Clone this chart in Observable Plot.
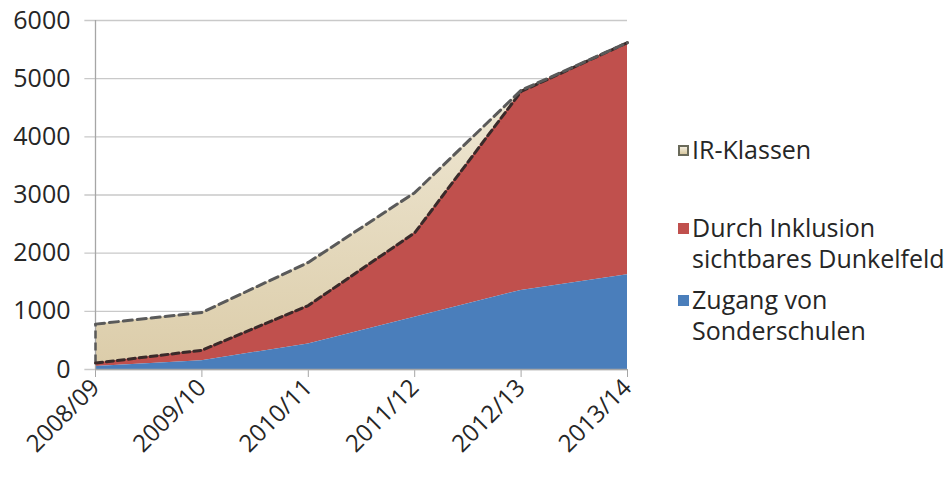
<!DOCTYPE html>
<html><head><meta charset="utf-8">
<script src="https://cdn.jsdelivr.net/npm/d3@7"></script>
<script src="https://cdn.jsdelivr.net/npm/@observablehq/plot@0.6"></script>
<style>
html,body{margin:0;padding:0;background:#fff;}
#wrap{display:flex;align-items:flex-start;width:949px;height:479px;font-family:"Open Sans",sans-serif;color:#262626;}
#legend{margin-top:134px;margin-left:18px;font-size:25px;line-height:31px;white-space:nowrap;}
.item{display:flex;align-items:flex-start;}
.sw{width:11px;height:11px;margin-top:11px;margin-right:3px;flex:none;}
</style></head>
<body><div id="wrap"><div id="chart"></div><div id="legend"></div></div>
<script>
const years = ["2008/09","2009/10","2010/11","2011/12","2012/13","2013/14"];
const zugang = [50,150,440,900,1360,1630];
const dunkelfeld = [60,180,660,1450,3420,3990];
const irKlassen = [670,650,740,690,20,0];
const yTicks = [0,1000,2000,3000,4000,5000,6000];
const seriesNames = ["IR-Klassen","Durch Inklusion sichtbares Dunkelfeld","Zugang von Sonderschulen"];
const colors = {blue:"#4a7ebb", red:"#c0504d"};

const rows = years.map((y,i)=>{
  const b = zugang[i], r = b + dunkelfeld[i], t = r + irKlassen[i];
  return {i, year:y, b0:0, b1:b, r1:r, t1:t};
});

const plot = Plot.plot({
  width: 660, height: 479,
  marginLeft: 95, marginRight: 33, marginTop: 20, marginBottom: 110,
  style: {fontFamily: "Open Sans, sans-serif", fontSize: "24px", color: "#262626", background: "#fff"},
  x: {type: "linear", domain: [0, years.length-1], ticks: d3.range(years.length), tickFormat: i => years[i], tickRotate: -45, tickSize: 8, label: null, tickPadding: 6},
  y: {domain: [0, 6000], ticks: yTicks, tickFormat: d => String(d), tickSize: 0, tickPadding: 25, label: null},
  marks: [
    Plot.ruleY(yTicks, {x1: -0.1, x2: years.length-1, stroke: "#c9c9c9", strokeWidth: 1.3, clip: false}),
    Plot.areaY(rows, {x: "i", y1: "r1", y2: "t1", fill: "url(#irgrad)"}),
    Plot.areaY(rows, {x: "i", y1: "b1", y2: "r1", fill: colors.red}),
    Plot.areaY(rows, {x: "i", y1: "b0", y2: "b1", fill: colors.blue}),
    Plot.ruleX([0], {stroke: "#a6a6a6", strokeWidth: 1.3}),
    Plot.ruleY([0], {stroke: "#a6a6a6", strokeWidth: 1.3}),
    Plot.ruleX(rows.slice(0,1), {x: "i", y1: "r1", y2: "t1", stroke: "#5a5a5a", strokeWidth: 2.5, strokeDasharray: "8,4"}),
    Plot.lineY(rows, {x: "i", y: "r1", stroke: "#3a2a2a", strokeWidth: 3, strokeDasharray: "7,4"}),
    Plot.lineY(rows, {x: "i", y: "t1", stroke: "#5a5a5a", strokeWidth: 3, strokeDasharray: "9,5"})
  ]
});

const svg = d3.select(plot);
svg.select("[aria-label='y-axis tick label']").style("font-size", "25px");
const defs = svg.insert("defs", ":first-child");
const g = defs.append("linearGradient").attr("id","irgrad").attr("x1",0).attr("y1",0).attr("x2",0).attr("y2",1);
g.append("stop").attr("offset","0%").attr("stop-color","#f2ecdb");
g.append("stop").attr("offset","100%").attr("stop-color","#dccdaa");
svg.selectAll("[aria-label='x-axis tick']").attr("stroke","#a6a6a6");
document.getElementById("chart").appendChild(plot);

const legend = document.getElementById("legend");
const items = [
  {style: "background:linear-gradient(#f3eddd,#d8c8a0);border:2px dashed #6a6a5a;box-sizing:border-box;", gap: 47},
  {style: "background:" + colors.red + ";", gap: 10},
  {style: "background:" + colors.blue + ";", gap: 0}
];
const wraps = [["IR-Klassen"],["Durch Inklusion","sichtbares Dunkelfeld"],["Zugang von","Sonderschulen"]];
items.forEach((it, k) => {
  const d = document.createElement("div");
  d.className = "item";
  d.style.marginBottom = it.gap + "px";
  d.title = seriesNames[k];
  const s = document.createElement("div");
  s.className = "sw"; s.setAttribute("style", it.style);
  const t = document.createElement("div");
  t.innerHTML = wraps[k].join("<br>");
  d.appendChild(s); d.appendChild(t);
  legend.appendChild(d);
});
</script></body></html>
